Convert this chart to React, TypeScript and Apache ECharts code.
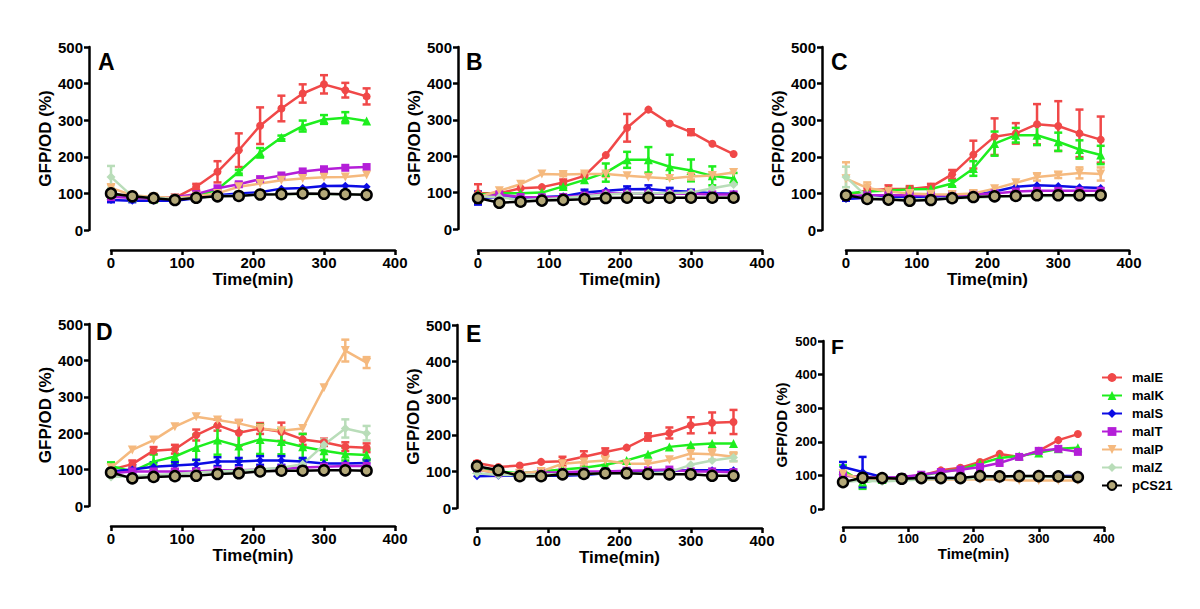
import React, { useEffect, useRef } from "react";
import * as echarts from "echarts";

const times = [0, 30, 60, 90, 120, 150, 180, 210, 240, 270, 300, 330, 360];
const seriesNames = ["malE", "malK", "malS", "malT", "malP", "malZ", "pCS21"];
const panelLetters = ["A", "B", "C", "D", "E", "F"];
const xTicks = [0, 100, 200, 300, 400];
const yTicks = [0, 100, 200, 300, 400, 500];

// ---- Panel A ----
const A_malE = [100, 90, 88, 88, 118, 159, 218, 285, 332, 373, 398, 382, 365];
const A_malK = [95, 88, 85, 85, 92, 111, 159, 211, 253, 284, 302, 307, 298];
const A_malS = [82, 80, 80, 80, 87, 95, 100, 103, 113, 115, 120, 121, 118];
const A_malT = [90, 88, 85, 90, 98, 114, 125, 139, 149, 160, 166, 170, 172];
const A_malP = [115, 95, 90, 88, 92, 100, 118, 127, 136, 141, 144, 145, 150];
const A_malZ = [145, 92, 88, 85, 88, 92, 94, 97, 98, 98, 98, 97, 96];
const A_pCS21 = [100, 92, 87, 82, 88, 92, 93, 97, 98, 100, 99, 98, 96];
const A_malE_sd = [0, 0, 0, 0, 8, 29, 46, 50, 35, 25, 25, 20, 22];
const A_malK_sd = [0, 0, 0, 0, 0, 0, 5, 13, 5, 15, 12, 15, 0];
const A_malS_sd = [6, 4, 0, 0, 0, 0, 0, 0, 0, 0, 0, 0, 0];
const A_malT_sd = [5, 0, 0, 0, 6, 0, 5, 0, 0, 0, 0, 0, 0];
const A_malP_sd = [10, 0, 0, 0, 0, 0, 0, 0, 0, 0, 0, 0, 0];
const A_malZ_sd = [30, 0, 0, 0, 0, 0, 0, 0, 0, 0, 0, 0, 0];
const A_pCS21_sd = [0, 0, 0, 0, 0, 0, 0, 0, 0, 0, 0, 0, 0];

// ---- Panel B ----
const B_malE = [98, 98, 112, 115, 128, 146, 203, 278, 328, 290, 266, 234, 206];
const B_malK = [95, 98, 98, 100, 117, 135, 155, 190, 190, 171, 161, 146, 139];
const B_malS = [85, 88, 85, 88, 90, 100, 105, 109, 110, 105, 102, 98, 97];
const B_malT = [88, 95, 88, 87, 88, 92, 98, 97, 97, 97, 97, 95, 95];
const B_malP = [88, 105, 123, 151, 150, 151, 151, 146, 142, 139, 144, 147, 155];
const B_malZ = [90, 87, 80, 82, 85, 90, 95, 97, 98, 98, 100, 112, 122];
const B_pCS21 = [85, 72, 75, 78, 80, 82, 85, 86, 86, 86, 86, 86, 86];
const B_malE_sd = [25, 0, 0, 0, 8, 0, 0, 38, 0, 0, 8, 0, 0];
const B_malK_sd = [0, 0, 0, 0, 5, 0, 25, 22, 35, 33, 30, 26, 15];
const B_malS_sd = [18, 0, 0, 0, 0, 8, 0, 8, 10, 8, 6, 0, 0];
const B_malT_sd = [0, 0, 0, 0, 0, 0, 0, 0, 0, 0, 0, 0, 0];
const B_malP_sd = [0, 0, 0, 0, 5, 5, 8, 0, 0, 0, 8, 5, 0];
const B_malZ_sd = [0, 0, 0, 0, 0, 0, 0, 0, 0, 0, 0, 0, 0];
const B_pCS21_sd = [12, 0, 0, 0, 0, 0, 0, 0, 0, 0, 0, 0, 0];

// ---- Panel C ----
const C_malE = [95, 108, 112, 112, 118, 152, 206, 255, 264, 289, 284, 264, 247];
const C_malK = [100, 105, 108, 111, 112, 127, 168, 236, 259, 259, 241, 220, 205];
const C_malS = [85, 88, 90, 90, 90, 92, 95, 105, 118, 122, 120, 117, 115];
const C_malT = [92, 95, 95, 95, 95, 95, 98, 100, 105, 107, 107, 107, 107];
const C_malP = [140, 115, 105, 100, 98, 97, 100, 113, 129, 145, 150, 156, 153];
const C_malZ = [145, 90, 85, 83, 85, 87, 88, 90, 92, 92, 93, 93, 93];
const C_pCS21 = [95, 85, 83, 80, 82, 87, 90, 92, 93, 95, 95, 95, 95];
const C_malE_sd = [5, 8, 10, 8, 8, 12, 38, 50, 28, 55, 68, 65, 63];
const C_malK_sd = [0, 0, 0, 5, 5, 8, 20, 33, 20, 27, 25, 25, 25];
const C_malS_sd = [5, 0, 0, 0, 0, 0, 0, 0, 0, 0, 0, 0, 0];
const C_malT_sd = [0, 0, 0, 0, 0, 0, 0, 0, 0, 0, 0, 0, 0];
const C_malP_sd = [45, 15, 0, 8, 0, 0, 0, 0, 0, 10, 8, 15, 18];
const C_malZ_sd = [28, 0, 0, 0, 0, 0, 0, 0, 0, 0, 0, 0, 0];
const C_pCS21_sd = [0, 0, 0, 0, 0, 0, 0, 0, 0, 0, 0, 0, 0];

// ---- Panel D ----
const D_malE = [100, 115, 152, 156, 195, 222, 201, 213, 204, 183, 175, 163, 160];
const D_malK = [110, 95, 122, 136, 161, 181, 165, 183, 177, 163, 152, 143, 140];
const D_malS = [95, 100, 108, 111, 115, 122, 122, 125, 125, 122, 117, 117, 118];
const D_malT = [90, 95, 95, 95, 95, 98, 98, 100, 103, 106, 108, 110, 110];
const D_malP = [105, 154, 181, 218, 245, 236, 227, 213, 207, 213, 325, 427, 394];
const D_malZ = [80, 82, 85, 88, 92, 95, 97, 100, 105, 115, 168, 213, 200];
const D_pCS21 = [92, 76, 80, 82, 83, 88, 90, 95, 97, 97, 98, 98, 97];
const D_malE_sd = [0, 10, 10, 12, 15, 15, 35, 15, 25, 15, 10, 12, 12];
const D_malK_sd = [10, 0, 20, 20, 35, 40, 40, 40, 35, 35, 25, 18, 15];
const D_malS_sd = [0, 12, 12, 10, 12, 12, 10, 12, 12, 10, 0, 0, 10];
const D_malT_sd = [0, 0, 0, 0, 0, 0, 0, 0, 0, 0, 0, 0, 0];
const D_malP_sd = [0, 0, 0, 0, 0, 0, 0, 0, 0, 0, 0, 30, 15];
const D_malZ_sd = [0, 0, 0, 0, 0, 0, 0, 0, 0, 0, 15, 25, 20];
const D_pCS21_sd = [0, 0, 0, 0, 0, 0, 0, 0, 0, 0, 0, 0, 0];

// ---- Panel E ----
const E_malE = [123, 112, 116, 126, 128, 140, 153, 165, 194, 205, 226, 233, 235];
const E_malK = [105, 100, 95, 100, 105, 110, 118, 130, 147, 167, 173, 176, 176];
const E_malS = [87, 88, 88, 88, 88, 90, 95, 97, 100, 102, 103, 103, 103];
const E_malT = [105, 95, 95, 97, 98, 100, 100, 102, 103, 105, 100, 100, 98];
const E_malP = [105, 95, 95, 100, 121, 126, 130, 121, 121, 132, 149, 147, 140];
const E_malZ = [95, 90, 90, 92, 92, 93, 95, 95, 95, 98, 118, 130, 138];
const E_pCS21 = [114, 103, 87, 87, 92, 93, 95, 95, 93, 92, 92, 88, 88];
const E_malE_sd = [5, 0, 0, 0, 12, 15, 10, 0, 10, 15, 22, 28, 33];
const E_malK_sd = [0, 0, 0, 0, 0, 0, 0, 0, 0, 0, 0, 0, 0];
const E_malS_sd = [0, 0, 0, 0, 0, 0, 0, 0, 0, 0, 0, 0, 0];
const E_malT_sd = [0, 0, 0, 0, 0, 0, 0, 0, 0, 0, 0, 0, 0];
const E_malP_sd = [0, 0, 0, 0, 10, 10, 12, 0, 0, 0, 15, 15, 12];
const E_malZ_sd = [0, 0, 0, 0, 0, 0, 0, 0, 0, 0, 0, 0, 10];
const E_pCS21_sd = [8, 0, 0, 0, 0, 0, 0, 0, 0, 0, 0, 0, 0];

// ---- Panel F ----
const F_malE = [100, 95, 90, 95, 100, 115, 123, 140, 164, 155, 173, 205, 223];
const F_malK = [115, 80, 88, 93, 100, 110, 118, 135, 152, 158, 167, 179, 182];
const F_malS = [125, 110, 95, 90, 92, 92, 92, 95, 95, 97, 97, 98, 98];
const F_malT = [100, 95, 92, 95, 102, 110, 117, 125, 137, 155, 173, 179, 170];
const F_malP = [105, 90, 88, 88, 88, 88, 88, 88, 88, 85, 85, 85, 85];
const F_malZ = [80, 85, 82, 85, 88, 90, 90, 93, 95, 95, 95, 95, 95];
const F_pCS21 = [80, 93, 92, 90, 92, 92, 92, 98, 97, 98, 98, 97, 95];
const F_malE_sd = [0, 0, 0, 0, 0, 0, 0, 0, 0, 0, 0, 0, 0];
const F_malK_sd = [15, 20, 0, 0, 0, 0, 0, 0, 0, 0, 0, 0, 0];
const F_malS_sd = [15, 45, 0, 0, 0, 0, 0, 0, 0, 0, 0, 0, 0];
const F_malT_sd = [0, 0, 0, 0, 0, 0, 0, 0, 0, 0, 0, 0, 0];
const F_malP_sd = [0, 0, 0, 0, 0, 0, 0, 0, 0, 0, 0, 0, 0];
const F_malZ_sd = [10, 0, 0, 0, 0, 0, 0, 0, 0, 0, 0, 0, 0];
const F_pCS21_sd = [0, 0, 0, 0, 0, 0, 0, 0, 0, 0, 0, 0, 0];

const panelValues = [
  [A_malE, A_malK, A_malS, A_malT, A_malP, A_malZ, A_pCS21],
  [B_malE, B_malK, B_malS, B_malT, B_malP, B_malZ, B_pCS21],
  [C_malE, C_malK, C_malS, C_malT, C_malP, C_malZ, C_pCS21],
  [D_malE, D_malK, D_malS, D_malT, D_malP, D_malZ, D_pCS21],
  [E_malE, E_malK, E_malS, E_malT, E_malP, E_malZ, E_pCS21],
  [F_malE, F_malK, F_malS, F_malT, F_malP, F_malZ, F_pCS21],
];
const panelErrors = [
  [A_malE_sd, A_malK_sd, A_malS_sd, A_malT_sd, A_malP_sd, A_malZ_sd, A_pCS21_sd],
  [B_malE_sd, B_malK_sd, B_malS_sd, B_malT_sd, B_malP_sd, B_malZ_sd, B_pCS21_sd],
  [C_malE_sd, C_malK_sd, C_malS_sd, C_malT_sd, C_malP_sd, C_malZ_sd, C_pCS21_sd],
  [D_malE_sd, D_malK_sd, D_malS_sd, D_malT_sd, D_malP_sd, D_malZ_sd, D_pCS21_sd],
  [E_malE_sd, E_malK_sd, E_malS_sd, E_malT_sd, E_malP_sd, E_malZ_sd, E_pCS21_sd],
  [F_malE_sd, F_malK_sd, F_malS_sd, F_malT_sd, F_malP_sd, F_malZ_sd, F_pCS21_sd],
];

const FONT = "'Liberation Sans', Arial, Helvetica, sans-serif";

const styles: Record<string, any> = {
  malE: { color: "#f04848", symbol: "circle", size: 8, rotate: 0 },
  malK: { color: "#1eee1e", symbol: "triangle", size: 9, rotate: 0 },
  malS: { color: "#0c0ce4", symbol: "diamond", size: 8, rotate: 0 },
  malT: { color: "#b41ed8", symbol: "rect", size: 8, rotate: 0 },
  malP: { color: "#f5b97e", symbol: "triangle", size: 9, rotate: 180 },
  malZ: { color: "#b9ddb9", symbol: "diamond", size: 9, rotate: 0 },
  pCS21: { color: "#000000", symbol: "circle", size: 10, rotate: 0, fill: "#b3a878" },
};

const layouts = [
  { left: 111, top: 47, width: 284, height: 183, yOff: 22, xOff: 20, lx: 98, ly: 50, tick: 15, title: 17, letter: 23 },
  { left: 478, top: 47, width: 284, height: 182, yOff: 20, xOff: 21, lx: 466, ly: 50, tick: 15, title: 17, letter: 23 },
  { left: 846, top: 47, width: 283, height: 183, yOff: 24, xOff: 20, lx: 831, ly: 50, tick: 15, title: 17, letter: 23 },
  { left: 111, top: 324, width: 284, height: 182, yOff: 22, xOff: 20, lx: 96, ly: 320, tick: 15, title: 17, letter: 23 },
  { left: 477, top: 325, width: 285, height: 183, yOff: 20, xOff: 20, lx: 466, ly: 322, tick: 15, title: 17, letter: 23 },
  { left: 843, top: 341, width: 261, height: 168, yOff: 20, xOff: 18, lx: 831, ly: 336, tick: 13, title: 15, letter: 21 },
];

function buildOption() {
  const grid: any[] = [];
  const xAxis: any[] = [];
  const yAxis: any[] = [];
  const series: any[] = [];
  const graphic: any[] = [];

  layouts.forEach((L, i) => {
    grid.push({ left: L.left, top: L.top, width: L.width, height: L.height, containLabel: false });
    const axisCommon = {
      axisLine: { show: true, onZero: false, lineStyle: { color: "#000", width: 2.5 } },
      axisTick: { show: true, inside: false, length: 5, lineStyle: { color: "#000", width: 2.5 } },
      splitLine: { show: false },
    };
    xAxis.push({
      type: "value",
      gridIndex: i,
      min: xTicks[0],
      max: xTicks[xTicks.length - 1],
      interval: 100,
      offset: L.xOff,
      ...axisCommon,
      axisLabel: { color: "#000", fontSize: L.tick, fontWeight: "bold", fontFamily: FONT, margin: 5 },
      name: "Time(min)",
      nameLocation: "middle",
      nameGap: 19,
      nameTextStyle: { color: "#000", fontSize: L.title, fontWeight: "bold", fontFamily: FONT },
    });
    yAxis.push({
      type: "value",
      gridIndex: i,
      min: yTicks[0],
      max: yTicks[yTicks.length - 1],
      interval: 100,
      offset: L.yOff,
      ...axisCommon,
      axisLabel: { color: "#000", fontSize: L.tick, fontWeight: "bold", fontFamily: FONT, margin: 6 },
      name: "GFP/OD (%)",
      nameLocation: "middle",
      nameGap: 34,
      nameTextStyle: { color: "#000", fontSize: L.title, fontWeight: "bold", fontFamily: FONT },
    });
    graphic.push({
      type: "text",
      x: L.lx,
      y: L.ly,
      style: {
        text: panelLetters[i],
        fill: "#000",
        font: `bold ${L.letter}px ${FONT}`,
        verticalAlign: "top",
        align: "left",
      },
    });

    seriesNames.forEach((name, j) => {
      const st = styles[name];
      const vals = panelValues[i][j];
      const errs = panelErrors[i][j];
      const errColor = st.color;
      series.push({
        type: "custom",
        name: name + " SD",
        xAxisIndex: i,
        yAxisIndex: i,
        clip: false,
        silent: true,
        data: times.map((t, k) => [t, vals[k] - errs[k], vals[k] + errs[k], errs[k]]),
        renderItem: (params: any, api: any) => {
          const e = api.value(3);
          if (!e) return null;
          const x = api.value(0);
          const top = api.coord([x, api.value(2)]);
          const bot = api.coord([x, api.value(1)]);
          const w = 4;
          const ls = { stroke: errColor, lineWidth: 2.5 };
          return {
            type: "group",
            children: [
              { type: "line", shape: { x1: top[0], y1: top[1], x2: bot[0], y2: bot[1] }, style: ls },
              { type: "line", shape: { x1: top[0] - w, y1: top[1], x2: top[0] + w, y2: top[1] }, style: ls },
              { type: "line", shape: { x1: bot[0] - w, y1: bot[1], x2: bot[0] + w, y2: bot[1] }, style: ls },
            ],
          };
        },
      });
      series.push({
        type: "line",
        name,
        xAxisIndex: i,
        yAxisIndex: i,
        clip: false,
        data: times.map((t, k) => [t, vals[k]]),
        symbol: st.symbol,
        symbolSize: st.size,
        symbolRotate: st.rotate,
        showAllSymbol: true,
        lineStyle: { color: st.color, width: 2.5 },
        itemStyle:
          name === "pCS21"
            ? { color: st.fill, borderColor: "#000", borderWidth: 2.5 }
            : { color: st.color },
      });
    });
  });

  return {
    animation: false,
    backgroundColor: "#ffffff",
    grid,
    xAxis,
    yAxis,
    series,
    graphic,
    legend: {
      orient: "vertical",
      left: 1096,
      top: 366,
      itemWidth: 20,
      itemHeight: 11,
      itemGap: 5,
      data: seriesNames,
      textStyle: { color: "#000", fontSize: 13, fontWeight: "bold", fontFamily: FONT, padding: [0, 0, 0, 5] },
    },
  };
}

export default function App() {
  const ref = useRef<HTMLDivElement>(null);
  useEffect(() => {
    if (!ref.current) return;
    const chart = echarts.init(ref.current, undefined, { renderer: "svg" });
    chart.setOption(buildOption() as any);
    return () => chart.dispose();
  }, []);
  return (
    <div
      ref={ref}
      style={{ position: "absolute", left: 0, top: 0, width: 1200, height: 609, background: "#fff" }}
    />
  );
}
